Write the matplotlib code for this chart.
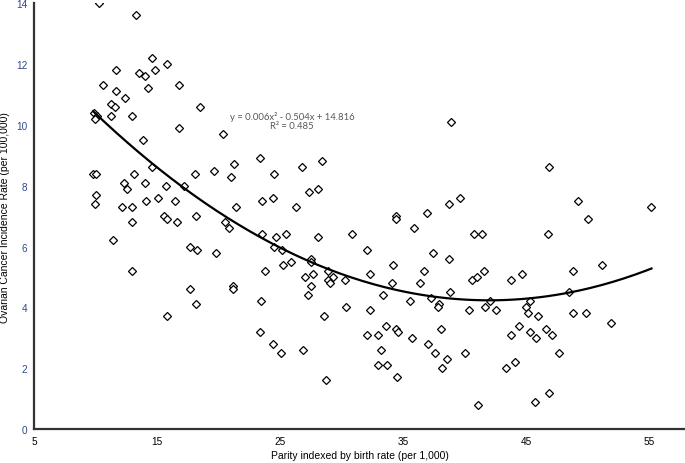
# Importing numpy and matplotlib
import numpy as np
import matplotlib
matplotlib.use('Agg')
import matplotlib.pyplot as plt

# Birth rate (per 1,000) and ovarian cancer incidence (per 100,000)
birth_rate = [
    10.3, 13.3, 14.6, 15.8, 11.7, 13.55, 14.0, 14.8, 10.65, 16.75, 11.7, 14.3,
    12.4, 11.3, 11.6, 18.5, 9.9, 10.1, 9.95, 11.3, 13.0, 16.75, 20.4, 13.9,
    9.8, 10.0, 13.15, 14.6, 12.3, 14.0, 12.55, 15.7, 17.2, 18.1, 19.6, 21.0,
    21.3, 10.05, 9.95, 12.15, 13.0, 14.1, 15.05, 16.45, 21.4, 15.55, 15.8, 12.95,
    16.65, 18.2, 20.55, 20.85, 11.45, 17.65, 18.25, 19.8, 13.0, 17.7, 18.2, 21.2,
    21.2, 15.85,
    38.9, 23.4, 24.5, 26.8, 28.45, 23.55, 24.4, 26.3, 27.35, 28.1, 34.45, 34.45,
    35.9, 36.95, 38.75, 39.6, 23.5, 24.65, 25.5, 28.1, 30.85,
    24.5, 25.2, 32.05, 37.45, 38.7, 25.25, 25.9, 27.55, 27.55, 34.2, 23.75, 27.65,
    28.9, 36.7, 27.05, 29.3, 28.9, 29.1, 30.25, 32.35, 34.1, 36.35, 27.55, 27.25,
    33.4, 38.85, 35.55, 37.25, 37.9, 37.85, 23.45, 28.55, 30.35, 32.35, 23.4, 24.45,
    25.1, 26.85, 28.7, 32.1, 33.0, 33.6, 34.45, 34.6, 35.75, 33.25, 33.0, 33.7,
    34.5, 37.0, 37.6, 38.05, 38.55, 38.2,
    46.9, 49.25, 50.0, 55.2, 40.75, 41.45, 46.75,
    51.15, 40.65, 41.0, 41.6, 43.75, 44.7, 48.8, 42.05, 48.5, 45.3, 40.35, 41.65,
    42.55, 45.0, 45.2, 46.0, 48.8, 49.9, 51.95, 44.4, 43.75, 45.3, 45.85, 46.65,
    47.1, 47.65, 40.05, 44.1, 43.35, 46.85, 45.7, 41.1,
]
incidence = [
    14.0, 13.6, 12.2, 12.0, 11.8, 11.7, 11.6, 11.8, 11.3, 11.3, 11.1, 11.2,
    10.9, 10.7, 10.6, 10.6, 10.4, 10.3, 10.2, 10.3, 10.3, 9.9, 9.7, 9.5,
    8.4, 8.4, 8.4, 8.6, 8.1, 8.1, 7.9, 8.0, 8.0, 8.4, 8.5, 8.3,
    8.7, 7.7, 7.4, 7.3, 7.3, 7.5, 7.6, 7.5, 7.3, 7.0, 6.9, 6.8,
    6.8, 7.0, 6.8, 6.6, 6.2, 6.0, 5.9, 5.8, 5.2, 4.6, 4.1, 4.7,
    4.6, 3.7,
    10.1, 8.9, 8.4, 8.6, 8.8, 7.5, 7.6, 7.3, 7.8, 7.9, 7.0, 6.9,
    6.6, 7.1, 7.4, 7.6, 6.4, 6.3, 6.4, 6.3, 6.4,
    6.0, 5.9, 5.9, 5.8, 5.6, 5.4, 5.5, 5.6, 5.5, 5.4, 5.2, 5.1,
    5.2, 5.2, 5.0, 5.0, 4.9, 4.8, 4.9, 5.1, 4.8, 4.8, 4.7, 4.4,
    4.4, 4.5, 4.2, 4.3, 4.1, 4.0, 4.2, 3.7, 4.0, 3.9, 3.2, 2.8,
    2.5, 2.6, 1.6, 3.1, 3.1, 3.4, 3.3, 3.2, 3.0, 2.6, 2.1, 2.1,
    1.7, 2.8, 2.5, 3.3, 2.3, 2.0,
    8.6, 7.5, 6.9, 7.3, 6.4, 6.4, 6.4,
    5.4, 4.9, 5.0, 5.2, 4.9, 5.1, 5.2, 4.2, 4.5, 4.2, 3.9, 4.0,
    3.9, 4.0, 3.8, 3.7, 3.8, 3.8, 3.5, 3.4, 3.1, 3.2, 3.0, 3.3,
    3.1, 2.5, 2.5, 2.2, 2.0, 1.2, 0.9, 0.8,
]

# Polynomial trend line shown on the chart
coeffs = [0.006, -0.504, 14.816]
trend_label = 'y = 0.006x\u00b2 - 0.504x + 14.816\nR\u00b2 = 0.485'

x_ticks = [5, 15, 25, 35, 45, 55]
y_ticks = [0, 2, 4, 6, 8, 10, 12, 14]

plt.rcParams['font.family'] = ['Liberation Sans', 'DejaVu Sans']

fig = plt.figure(figsize=(6.85, 4.64), dpi=100)
ax = fig.add_axes([34 / 685, 34 / 464, 651 / 685, 425.7 / 464])

# scatter of the countries
ax.plot(birth_rate, incidence, linestyle='none', marker='D', markersize=3.8,
        markerfacecolor='white', markeredgecolor='black', markeredgewidth=0.9,
        zorder=3)

# trend line over the range of the data
xs = np.linspace(min(birth_rate), max(birth_rate), 200)
ax.plot(xs, np.polyval(coeffs, xs), color='black', linewidth=1.6, zorder=4)

ax.text(26.0, 10.15, trend_label, ha='center', va='center', fontsize=6.8,
        color='#595959', family=['Lato', 'DejaVu Sans'], linespacing=1.1)

# axes setup
ax.set_xlim(5, 5 + 651 / 12.3)
ax.set_ylim(0, 14)
ax.set_xticks(x_ticks)
ax.set_yticks(y_ticks)
ax.tick_params(length=0, labelsize=7.2, pad=5)
for lab in ax.get_yticklabels():
    lab.set_color('#2E4A8B')
ax.spines['top'].set_visible(False)
ax.spines['right'].set_visible(False)
for s in ('left', 'bottom'):
    ax.spines[s].set_linewidth(1.6)
    ax.spines[s].set_color('#333333')

ax.set_xlabel('Parity indexed by birth rate (per 1,000)', fontsize=7.5, labelpad=3)
ax.set_ylabel('Ovarian Cancer Incidence Rate (per 100,000)', fontsize=7.5, labelpad=4)

fig.savefig('out.png', dpi=100)
